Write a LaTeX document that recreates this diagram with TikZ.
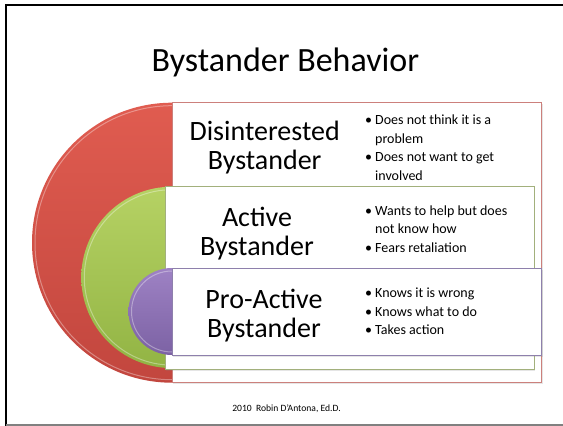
\documentclass[tikz,border=0pt]{standalone}
\usepackage{fontspec}
\setmainfont{Carlito}
\usetikzlibrary{positioning,shadows}

\definecolor{redtop}{RGB}{224,92,80}
\definecolor{redbot}{RGB}{194,70,62}
\definecolor{redline}{RGB}{204,128,124}
\definecolor{greentop}{RGB}{182,210,100}
\definecolor{greenbot}{RGB}{146,180,68}
\definecolor{greenline}{RGB}{162,176,124}
\definecolor{purpletop}{RGB}{158,130,196}
\definecolor{purplebot}{RGB}{124,98,164}
\definecolor{purpleline}{RGB}{142,128,172}

\newcommand\bpoint{\makebox[10pt][l]{\textbullet}}

\begin{document}
\begin{tikzpicture}[x=1pt,y=-1pt,
    box/.style={fill=white,line width=.8pt,drop shadow={shadow xshift=1pt,shadow yshift=-1.5pt,opacity=.2}},
    rim/.style={white,opacity=.35,line width=1pt},
    level/.style={align=center,font=\fontsize{28}{29}\selectfont},
    points/.style={anchor=base west,inner sep=0pt,font=\fontsize{14}{18.8}\selectfont}]
  \useasboundingbox (0,0) rectangle (563,426);

  % slide frame
  \draw[line width=1.5pt] (6,426) -- (6,5) -- (563,5);
  \draw[black!50,line width=1.2pt] (6,425) -- (563,425);

  \node[font=\fontsize{34}{40}\selectfont,anchor=base] (title) at (285.5,71.7) {Bystander Behavior};

  % outer level
  \shade[top color=redtop,bottom color=redbot] (172,102.7) arc[start angle=270,end angle=90,radius=140] -- cycle;
  \draw[rim] (172,105.7) arc[start angle=270,end angle=90,radius=137];
  \draw[box,draw=redline] (172,102.7) rectangle (541.7,382.7);

  % middle level
  \shade[top color=greentop,bottom color=greenbot] (172,186.7) arc[start angle=270,end angle=90,radius=90.7] -- cycle;
  \draw[rim] (172,189.7) arc[start angle=270,end angle=90,radius=87.7];
  \draw[box,draw=greenline] (165,186.7) rectangle (534,369);

  % inner level
  \shade[top color=purpletop,bottom color=purplebot] (172,268) arc[start angle=270,end angle=90,radius=43.5] -- cycle;
  \draw[rim] (172,271) arc[start angle=270,end angle=90,radius=40.5];
  \draw[box,draw=purpleline] (172,268) rectangle (541.7,355);

  \node[level] (label1) at (264.7,148) {Disinterested\\Bystander};
  \node[level] (label2) at (257,234) {Active\\Bystander};
  \node[level] (label3) at (264,316) {Pro-Active\\Bystander};

  \node[points] (list1) at (365,124.3) {\begin{tabular}[t]{@{}l@{}l@{}}
    \bpoint & Does not think it is a\\ & problem\\
    \bpoint & Does not want to get\\ & involved\end{tabular}};
  \node[points] (list2) at (365,215) {\begin{tabular}[t]{@{}l@{}l@{}}
    \bpoint & Wants to help but does\\ & not know how\\
    \bpoint & Fears retaliation\end{tabular}};
  \node[points] (list3) at (365,297.3) {\begin{tabular}[t]{@{}l@{}l@{}}
    \bpoint & Knows it is wrong\\
    \bpoint & Knows what to do\\
    \bpoint & Takes action\end{tabular}};

  \node[font=\fontsize{9.6}{11}\selectfont,anchor=base] (credit) at (286.5,411) {2010\ \ Robin D'Antona, Ed.D.};
\end{tikzpicture}
\end{document}
